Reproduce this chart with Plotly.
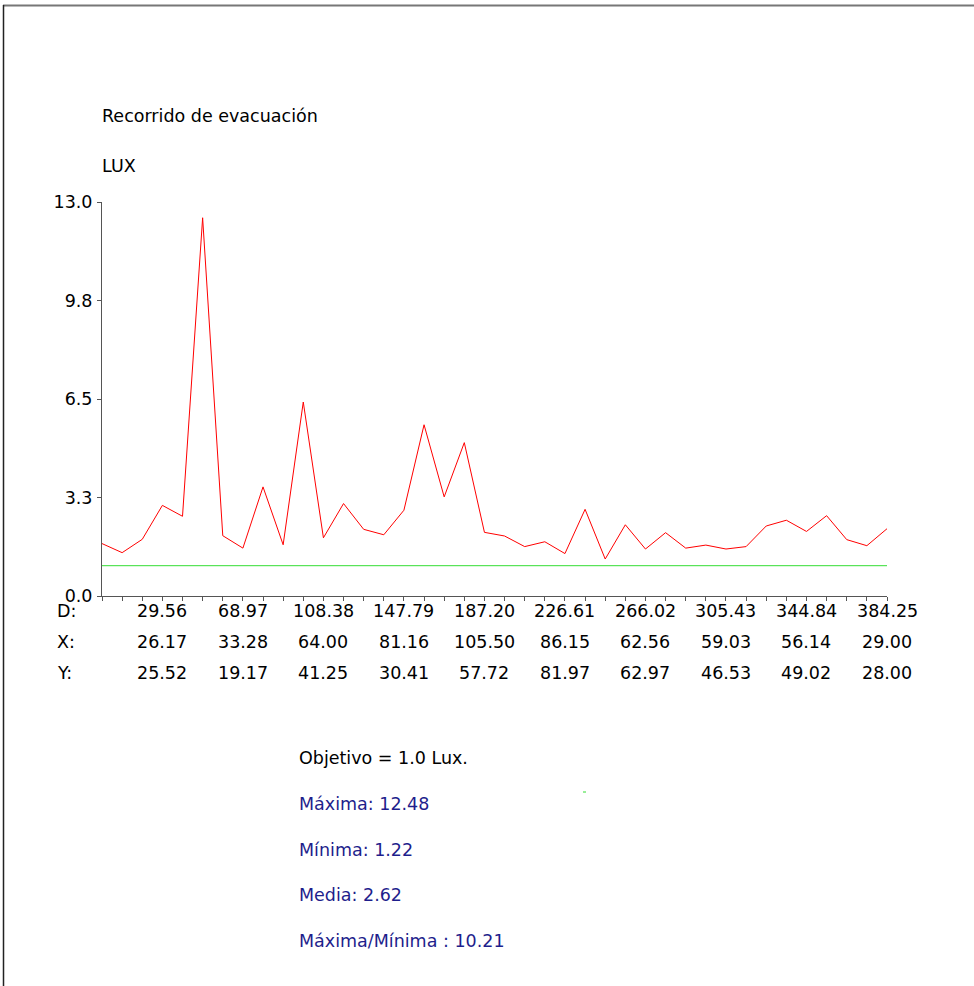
import plotly.graph_objects as go

# ---- data ----
title_text = "Recorrido de evacuación"
unit_text = "LUX"
lux = [1.73, 1.43, 1.87, 2.99, 2.63, 12.48, 1.99, 1.58, 3.60, 1.69,
       6.40, 1.92, 3.05, 2.20, 2.02, 2.83, 5.65, 3.27, 5.06, 2.10,
       1.98, 1.63, 1.79, 1.40, 2.86, 1.22, 2.35, 1.55, 2.09, 1.58,
       1.68, 1.55, 1.63, 2.31, 2.50, 2.13, 2.65, 1.86, 1.66, 2.22]
total_length = 384.25
objective = 1.0
d_labels = ["29.56", "68.97", "108.38", "147.79", "187.20", "226.61", "266.02", "305.43", "344.84", "384.25"]
x_labels = ["26.17", "33.28", "64.00", "81.16", "105.50", "86.15", "62.56", "59.03", "56.14", "29.00"]
y_labels = ["25.52", "19.17", "41.25", "30.41", "57.72", "81.97", "62.97", "46.53", "49.02", "28.00"]
y_tickvals = [0, 3.25, 6.5, 9.75, 13.0]
y_ticktext = ["0.0", "3.3", "6.5", "9.8", "13.0"]
summary_black = ["Objetivo = 1.0 Lux."]
summary_blue = ["Máxima: 12.48", "Mínima: 1.22", "Media: 2.62", "Máxima/Mínima : 10.21"]

step = total_length / (len(lux) - 1)
dist = [i * step for i in range(len(lux))]

W, H = 974, 986
L, R, T, B = 102, 87, 202, 390
PW, PH = W - L - R, H - T - B

def px(x):
    return (x - L) / PW

def py(y):
    return (H - B - y) / PH

FONT = "DejaVu Sans, Liberation Sans, Arial, sans-serif"
FS = 17.5
NAVY = "#1e1e8c"

fig = go.Figure()
fig.add_trace(go.Scatter(x=dist, y=lux, mode="lines",
                         line=dict(color="#ff0000", width=1), showlegend=False,
                         hoverinfo="skip"))
fig.add_trace(go.Scatter(x=[dist[0], dist[-1]], y=[objective, objective], mode="lines",
                         line=dict(color="#33dd33", width=1), showlegend=False,
                         hoverinfo="skip"))

ann = []
ann.append(dict(text=title_text, x=px(100), y=py(116), xref="paper", yref="paper",
                xanchor="left", yanchor="middle", showarrow=False,
                font=dict(family=FONT, size=FS, color="#000")))
ann.append(dict(text=unit_text, x=px(100), y=py(166), xref="paper", yref="paper",
                xanchor="left", yanchor="middle", showarrow=False,
                font=dict(family=FONT, size=FS, color="#000")))

rows = [("D:", d_labels, 611), ("X:", x_labels, 642), ("Y:", y_labels, 673)]
label_idx = list(range(3, len(lux), 4))
for name, vals, yy in rows:
    ann.append(dict(text=name, x=px(55), y=py(yy), xref="paper", yref="paper",
                    xanchor="left", yanchor="middle", showarrow=False,
                    font=dict(family=FONT, size=FS, color="#000")))
    for k, v in zip(label_idx, vals):
        ann.append(dict(text=v, x=dist[k], y=py(yy), xref="x", yref="paper",
                        xanchor="center", yanchor="middle", showarrow=False,
                        font=dict(family=FONT, size=FS, color="#000")))

sum_y = [758, 804, 850, 895, 941]
texts = [(t, "#000") for t in summary_black] + [(t, NAVY) for t in summary_blue]
for (t, c), yy in zip(texts, sum_y):
    ann.append(dict(text=t, x=px(297), y=py(yy), xref="paper", yref="paper",
                    xanchor="left", yanchor="middle", showarrow=False,
                    font=dict(family=FONT, size=FS, color=c)))

shapes = [
    # frame: top and left
    dict(type="line", xref="paper", yref="paper", x0=px(3), x1=px(974), y0=py(5.5), y1=py(5.5),
         line=dict(color="#777777", width=2)),
    dict(type="line", xref="paper", yref="paper", x0=px(3.5), x1=px(3.5), y0=py(5), y1=py(986),
         line=dict(color="#222222", width=1.5)),
    # small green mark
    dict(type="line", xref="paper", yref="paper", x0=px(583), x1=px(586), y0=py(792), y1=py(792),
         line=dict(color="#33dd33", width=1)),
]

fig.update_layout(
    width=W, height=H, autosize=False,
    margin=dict(l=L, r=R, t=T, b=B, pad=0),
    paper_bgcolor="white", plot_bgcolor="white",
    font=dict(family=FONT, size=FS, color="#000"),
    annotations=ann, shapes=shapes, showlegend=False,
    xaxis=dict(range=[0, total_length], showgrid=False, zeroline=False,
               showline=True, linecolor="#555555", linewidth=1,
               ticks="outside", ticklen=4, tickcolor="#555555",
               tickvals=dist, showticklabels=False, fixedrange=True),
    yaxis=dict(range=[0, 13], showgrid=False, zeroline=False,
               showline=True, linecolor="#555555", linewidth=1,
               ticks="outside", ticklen=4, tickcolor="#555555",
               tickvals=y_tickvals, ticktext=y_ticktext,
               tickfont=dict(family=FONT, size=FS, color="#000"),
               ticklabelstandoff=1, fixedrange=True),
)

fig.write_html("out.html", config={"displayModeBar": False},
               post_script="document.body.style.margin='0';document.body.style.overflow='hidden';")
